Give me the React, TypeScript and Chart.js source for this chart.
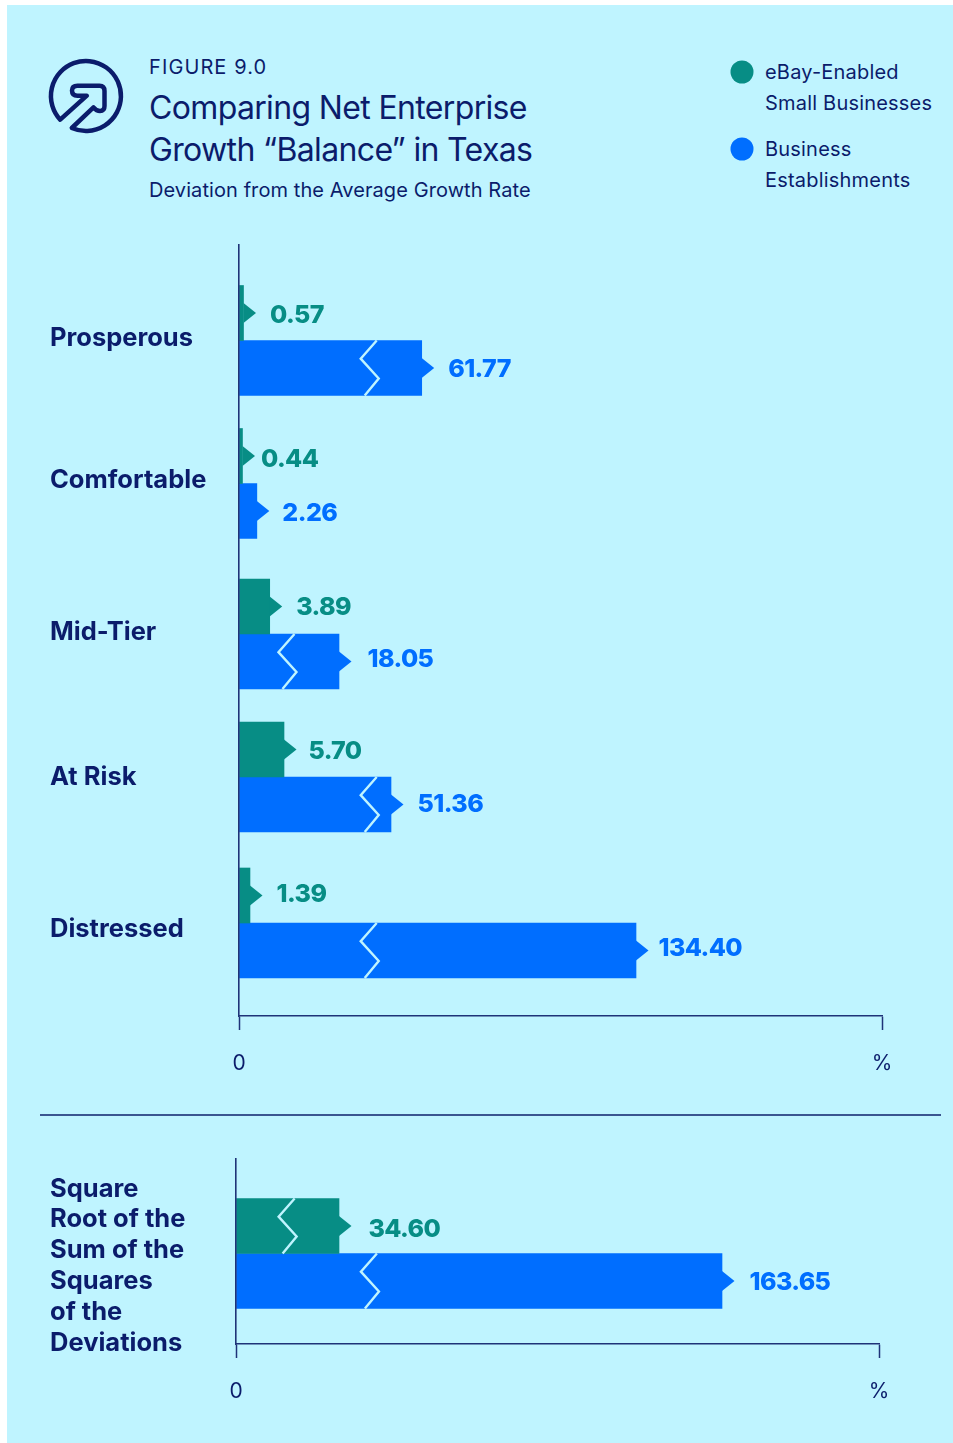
import React, { useEffect, useRef } from "react";
import { Chart, registerables, LinearScale, CategoryScale } from "chart.js";

// ---- data ----
const categories = ["Prosperous", "Comfortable", "Mid-Tier", "At Risk", "Distressed"];
const ebayValues = [0.57, 0.44, 3.89, 5.7, 1.39];
const businessValues = [61.77, 2.26, 18.05, 51.36, 134.4];
const businessBreaks = [41, null, 5, 41, 41];
const ebayBreaks = [null, null, null, null, null];

const summaryCategories = [["Square", "Root of the", "Sum of the", "Squares", "of the", "Deviations"]];
const summaryEbay = [34.6];
const summaryBusiness = [163.65];
const summaryEbayBreaks = [5.4];
const summaryBusinessBreaks = [42.1];

const seriesNames = ["eBay-Enabled Small Businesses", "Business Establishments"];
const axisTickLabels = ["0", "%"];

// ---- style ----
const BG = "#BFF4FF";
const GREEN = "#078D85";
const BLUE = "#006EFF";
const NAVY = "#0B1C6B";
const AXIS = "#1F3378";
const FONT = "Inter, 'Noto Sans', sans-serif";

// Nudges of each value label relative to its pointer.
const ebayGaps = [14, 6, 14, 12, 14];
const businessGaps = [14, 13, 16, 14, 10];
const summaryEbayGaps = [17];
const summaryBusinessGaps = [15];
const ebayLifts = [1, 2, 0, 1, -2];
const businessLifts = [0, 1, -3, -1, -3];
const summaryEbayLifts = [2];
const summaryBusinessLifts = [0];

// The axis is deliberately non-linear (the source chart uses broken bars).
const AXIS_MAX = 217.6;
const knotValues = [0, 5.7, 18.05, 34.6, 51.36, 134.4, 163.65, AXIS_MAX];
const knotFractions = [0, 45, 100, 103, 152, 397, 486, 643].map((p) => p / 643);

class BrokenScale extends LinearScale {
  static id = "broken";
  static defaults = (LinearScale as any).defaults;
  getPixelForValue(value: number) {
    if (value === null || value === undefined) return NaN;
    let i = 0;
    while (i < knotValues.length - 2 && value > knotValues[i + 1]) i++;
    const t = (value - knotValues[i]) / (knotValues[i + 1] - knotValues[i]);
    const f = knotFractions[i] + t * (knotFractions[i + 1] - knotFractions[i]);
    return (this as any).left + f * (this as any).width;
  }
}

// Rows in the source are not evenly spaced, offsets are measured from the axis top.
const rowLayouts: Record<string, { bars: number[]; labels: number[] }> = {
  main: { bars: [95.5, 238.5, 389, 532, 678], labels: [93, 235, 387, 532, 684] },
  summary: { bars: [94.5], labels: [107] },
};

class RowScale extends CategoryScale {
  static id = "rows";
  static defaults = (CategoryScale as any).defaults;
  getPixelForValue(value: any) {
    const self = this as any;
    const idx = typeof value === "number" ? value : self.parse(value);
    return self.top + rowLayouts[self.options.rowKey].bars[idx];
  }
  getPixelForTick(index: number) {
    const self = this as any;
    return self.top + rowLayouts[self.options.rowKey].labels[index];
  }
}

Chart.register(...registerables, BrokenScale, RowScale);

const ARROW_W = 12.5;
const ARROW_H = 10;

const decorations = {
  id: "barDecorations",
  afterDatasetsDraw(chart: any) {
    const { ctx } = chart;
    chart.data.datasets.forEach((ds: any, di: number) => {
      const meta = chart.getDatasetMeta(di);
      meta.data.forEach((bar: any, i: number) => {
        const { x, y, height } = bar.getProps(["x", "y", "height"], true);
        // pointer
        ctx.save();
        ctx.fillStyle = ds.backgroundColor;
        ctx.beginPath();
        ctx.moveTo(x, y - ARROW_H);
        ctx.lineTo(x + ARROW_W, y);
        ctx.lineTo(x, y + ARROW_H);
        ctx.closePath();
        ctx.fill();
        // break mark
        const brk = ds.breakAt[i];
        if (brk !== null && brk !== undefined) {
          const px = chart.scales.x.getPixelForValue(brk);
          const top = y - height / 2;
          ctx.strokeStyle = BG;
          ctx.lineWidth = 2.4;
          ctx.lineJoin = "miter";
          ctx.beginPath();
          ctx.moveTo(px + 16, top);
          ctx.lineTo(px, top + height * 0.33);
          ctx.lineTo(px + 18, top + height * 0.69);
          ctx.lineTo(px + 4, top + height);
          ctx.stroke();
        }
        // value
        ctx.fillStyle = ds.backgroundColor;
        ctx.font = `800 25px ${FONT}`;
        ctx.textBaseline = "middle";
        ctx.textAlign = "left";
        ctx.letterSpacing = "-0.6px";
        ctx.fillText(ds.data[i].toFixed(2), x + ARROW_W + ds.labelGaps[i], y + 1 + ds.labelLifts[i]);
        ctx.restore();
      });
    });
  },
};

function makeChart(
  canvas: HTMLCanvasElement,
  labels: any[],
  ebay: number[],
  business: number[],
  ebayBrk: (number | null)[],
  businessBrk: (number | null)[],
  ebayGap: number[],
  businessGap: number[],
  ebayLift: number[],
  businessLift: number[],
  rowKey: string,
  padding: any,
  yWidth: number,
  xHeight: number,
) {
  return new Chart(canvas, {
    type: "bar",
    plugins: [decorations],
    data: {
      labels,
      datasets: [
        { label: seriesNames[0], data: ebay, backgroundColor: GREEN, barThickness: 55, breakAt: ebayBrk, labelGaps: ebayGap, labelLifts: ebayLift } as any,
        { label: seriesNames[1], data: business, backgroundColor: BLUE, barThickness: 55, breakAt: businessBrk, labelGaps: businessGap, labelLifts: businessLift } as any,
      ],
    },
    options: {
      indexAxis: "y",
      animation: false,
      responsive: false,
      devicePixelRatio: 1,
      layout: { padding },
      plugins: { legend: { display: false }, tooltip: { enabled: false }, title: { display: false } },
      scales: {
        x: {
          type: "broken",
          min: 0,
          max: AXIS_MAX,
          afterBuildTicks: (s: any) => {
            s.ticks = [{ value: 0 }, { value: AXIS_MAX }];
          },
          afterFit: (s: any) => {
            s.height = xHeight;
          },
          border: { display: true, color: AXIS, width: 1.6, z: 1 },
          grid: { drawOnChartArea: false, drawTicks: true, tickLength: 14, tickColor: AXIS, tickWidth: 1.5 },
          ticks: {
            autoSkip: false,
            maxRotation: 0,
            padding: 21,
            color: NAVY,
            font: { family: FONT, size: 21 },
            callback: (v: any) => (v === 0 ? axisTickLabels[0] : axisTickLabels[1]),
          },
        },
        y: {
          type: "rows",
          rowKey,
          afterFit: (s: any) => {
            s.width = yWidth;
            s.paddingTop = 0;
            s.paddingBottom = 0;
          },
          border: { display: true, color: AXIS, width: 1.6, z: 1 },
          grid: { display: false },
          ticks: {
            autoSkip: false,
            crossAlign: "far",
            color: NAVY,
            padding: 0,
            font: { family: FONT, size: 25.5, weight: "700", lineHeight: 1.21 },
          },
        },
      } as any,
    },
  } as any);
}

export default function App() {
  const mainRef = useRef<HTMLCanvasElement>(null);
  const summaryRef = useRef<HTMLCanvasElement>(null);

  useEffect(() => {
    document.body.style.margin = "0";
    document.documentElement.style.overflow = "hidden";
    const a = makeChart(
      mainRef.current!,
      categories,
      ebayValues,
      businessValues,
      ebayBreaks,
      businessBreaks,
      ebayGaps,
      businessGaps,
      ebayLifts,
      businessLifts,
      "main",
      { left: 50, right: 71, top: 15, bottom: 8 },
      189,
      76,
    );
    const b = makeChart(
      summaryRef.current!,
      summaryCategories,
      summaryEbay,
      summaryBusiness,
      summaryEbayBreaks,
      summaryBusinessBreaks,
      summaryEbayGaps,
      summaryBusinessGaps,
      summaryEbayLifts,
      summaryBusinessLifts,
      "summary",
      { left: 50, right: 74, top: 9, bottom: 8 },
      186,
      78,
    );
    return () => {
      a.destroy();
      b.destroy();
    };
  }, []);

  const text = (top: number, left: number, size: number, content: string, extra: any = {}) => (
    <div
      style={{
        position: "absolute",
        top,
        left,
        height: 0,
        lineHeight: 0,
        fontSize: size,
        fontFamily: FONT,
        color: NAVY,
        whiteSpace: "nowrap",
        ...extra,
      }}
    >
      {content}
    </div>
  );

  const titleStyle = { letterSpacing: "-0.65px" };
  const legendStyle = { letterSpacing: "0.2px" };

  return (
    <div style={{ position: "absolute", left: 0, top: 0, width: 953, height: 1443, background: "#fff", overflow: "hidden" }}>
      <div style={{ position: "absolute", left: 7, top: 5, width: 946, height: 1438, background: BG }} />

      <svg style={{ position: "absolute", left: 0, top: 0 }} width={953} height={200} fill="none">
        <path
          transform="translate(3.5 4)"
          d="M68.3 124 A35 35 0 1 0 56.7 115.7 L83.3 91.7 L74 91.7 Q68.5 91.7 68.5 86.5 Q68.5 81.7 74 81.7 L96 81.7 Q101 81.7 101 87 L101 102 Q101 107 96.5 107 Q93 107 90 103.3 L68.3 124 Z"
          stroke={NAVY}
          strokeWidth={4.5}
          strokeLinejoin="round"
        />
        <circle cx={742} cy={72} r={11.5} fill={GREEN} />
        <circle cx={742} cy={149} r={11.5} fill={BLUE} />
      </svg>

      {text(67, 149, 20, "FIGURE 9.0", { letterSpacing: "1.1px" })}
      {text(107.5, 149, 32, "Comparing Net Enterprise", titleStyle)}
      {text(149.5, 149, 32, "Growth “Balance” in Texas", titleStyle)}
      {text(190, 149, 20, "Deviation from the Average Growth Rate", { letterSpacing: "0.08px" })}
      {text(72, 765, 20, "eBay-Enabled", legendStyle)}
      {text(103, 765, 20, "Small Businesses", legendStyle)}
      {text(149, 765, 20, "Business", legendStyle)}
      {text(180, 765, 20, "Establishments", legendStyle)}

      <canvas ref={mainRef} width={953} height={870} style={{ position: "absolute", left: 0, top: 230 }} />
      <div style={{ position: "absolute", left: 40, top: 1114, width: 901, height: 2, background: "#3A5590" }} />
      <canvas ref={summaryRef} width={953} height={280} style={{ position: "absolute", left: 0, top: 1150 }} />
    </div>
  );
}
